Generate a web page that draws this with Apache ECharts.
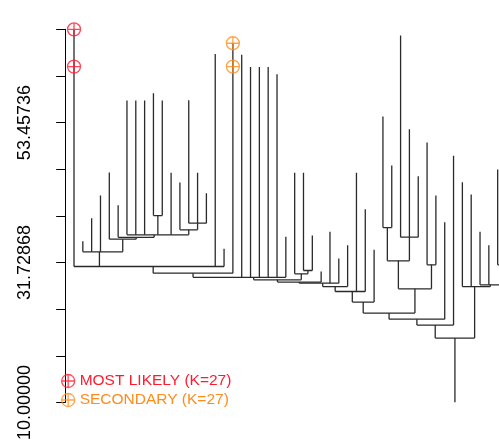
<!DOCTYPE html>
<html>
<head>
<meta charset="utf-8">
<script src="https://cdn.jsdelivr.net/npm/echarts@6/dist/echarts.min.js"></script>
<style>
  html, body { margin: 0; padding: 0; background: #ffffff; }
  #chart { width: 499px; height: 443px; }
</style>
</head>
<body>
<div id="chart"></div>
<script>
// Tip value of every leaf, left to right (leaf i sits at x = i).
const leafTop = [
  67.94, 35.05, 38.62, 42.13, 45.70, 40.64, 56.87, 56.87, 56.87, 58.02,
  56.87, 45.65, 44.15, 56.93, 45.65, 42.50, 64.12, 33.86, 65.78, 64.01,
  62.10, 62.10, 62.10, 60.97, 35.72, 45.65, 45.65, 35.92, 30.33, 36.49,
  32.35, 34.43, 45.65, 40.02, 33.70, 54.39, 46.78, 66.99, 52.43, 45.11,
  50.35, 42.13, 38.00, 48.29, 44.18, 42.31, 36.49, 34.43, 46.19, 40.00
];

// Merges, hclust style: -i is leaf i, +j is merge j (1-based, earlier row).
const mergeKids = [
  [-10, -11],
  [-14, -15, -16],
  [-13, 2],
  [-7, -8, -9, 1, -12, 3],
  [-6, 4],
  [-5, 5],
  [-2, -3, -4, 6],
  [-1, 7, -17, -18],
  [8, -19],
  [9, -20, -21, -22, -23, -24, -25],
  [-27, -28],
  [-26, 11],
  [10, 12],
  [13, -29],
  [14, -30, -31],
  [15, -32],
  [16, -33, -34],
  [17, -35],
  [-36, -37],
  [-38, -39, -40],
  [19, 20],
  [-41, -42],
  [21, 22],
  [18, 23],
  [24, -43],
  [25, -44],
  [-49, -50],
  [-47, -48, 27],
  [-45, -46, 28],
  [26, 29]
];
const mergeHeight = [
  39.02, 37.84, 36.80, 36.03, 35.64, 35.36, 33.39, 31.11, 30.08, 29.43,
  30.49, 29.98, 29.04, 28.69, 28.53, 28.00, 27.23, 25.58, 37.16, 35.67,
  31.99, 31.37, 27.65, 23.88, 22.94, 22.01, 31.37, 28.27, 28.00, 20.00
];
const rootBase = 10;

// Highlighted partitions.
const mostLikelyPts = [[1, 67.94], [1, 62.15]];
const secondaryPts = [[19, 65.78], [19, 62.15]];
const mostLikelyName = 'MOST LIKELY (K=27)';
const secondaryName = 'SECONDARY (K=27)';

// Y axis ticks and labels.
const yTicks = [10, 17.24289, 24.48578, 31.72868, 38.97157, 46.21446, 53.45736, 60.70025, 67.94314];
const yLabels = [10, 31.72868, 53.45736];

// ---- tree layout: node x is the mean of its children's x ----
const nodeX = [];
function kid(ref) {
  return ref < 0
    ? { x: -ref, top: leafTop[-ref - 1] }
    : { x: nodeX[ref - 1], top: mergeHeight[ref - 1] };
}
const segments = [];
mergeKids.forEach((kids, j) => {
  const h = mergeHeight[j];
  const ps = kids.map(kid);
  const xs = ps.map(p => p.x);
  nodeX[j] = xs.reduce((a, b) => a + b, 0) / xs.length;
  ps.forEach(p => segments.push([p.x, p.top, p.x, h]));
  segments.push([Math.min(...xs), h, Math.max(...xs), h]);
});
const rootIdx = mergeKids.length - 1;
segments.push([nodeX[rootIdx], mergeHeight[rootIdx], nodeX[rootIdx], rootBase]);

const RED = '#ff1a2e';
const ORANGE = '#ff8c1a';
const crossCircle = 'path://M0,12A12,12,0,1,1,24,12A12,12,0,1,1,0,12ZM12,0L12,24M0,12L24,12';
const FONT = '"Liberation Sans", Arial, Helvetica, sans-serif';
const hollow = c => ({ color: 'rgba(255,255,255,0)', borderColor: c, borderWidth: 1.3 });

const chart = echarts.init(document.getElementById('chart'), null, { renderer: 'canvas' });
chart.setOption({
  backgroundColor: '#ffffff',
  animation: false,
  grid: { left: 53, right: 0, top: 29.3, bottom: 40.3, containLabel: false },
  xAxis: {
    type: 'value', min: -1.38, max: 49.15, show: false
  },
  yAxis: {
    type: 'value', min: 10, max: 67.94314,
    splitLine: { show: false },
    axisLine: { show: true, lineStyle: { color: '#000', width: 1 } },
    axisTick: { show: true, length: 9, customValues: yTicks, lineStyle: { color: '#000', width: 1 } },
    axisLabel: {
      customValues: yLabels, rotate: 90, margin: 19,
      fontFamily: FONT, fontSize: 18, color: '#000',
      formatter: v => Number(v).toFixed(5)
    }
  },
  legend: {
    orient: 'vertical', left: 61, top: 373, padding: 0,
    itemWidth: 13, itemHeight: 13, itemGap: 3,
    textStyle: { fontFamily: FONT, fontSize: 15.5 },
    selectedMode: false,
    data: [
      { name: mostLikelyName, icon: crossCircle, itemStyle: hollow(RED), textStyle: { color: RED } },
      { name: secondaryName, icon: crossCircle, itemStyle: hollow(ORANGE), textStyle: { color: ORANGE } }
    ]
  },
  series: [
    {
      type: 'custom', name: 'tree', coordinateSystem: 'cartesian2d',
      clip: true, silent: true,
      data: segments,
      encode: { x: [0, 2], y: [1, 3] },
      renderItem: (params, api) => {
        const a = api.coord([api.value(0), api.value(1)]);
        const b = api.coord([api.value(2), api.value(3)]);
        return {
          type: 'line',
          shape: { x1: a[0], y1: a[1], x2: b[0], y2: b[1] },
          style: { stroke: '#2a2a2a', lineWidth: 1.3 }
        };
      }
    },
    {
      type: 'scatter', name: mostLikelyName, data: mostLikelyPts,
      symbol: crossCircle, symbolSize: 13, z: 5,
      itemStyle: hollow(RED)
    },
    {
      type: 'scatter', name: secondaryName, data: secondaryPts,
      symbol: crossCircle, symbolSize: 13, z: 5,
      itemStyle: hollow(ORANGE)
    }
  ]
});
</script>
</body>
</html>
